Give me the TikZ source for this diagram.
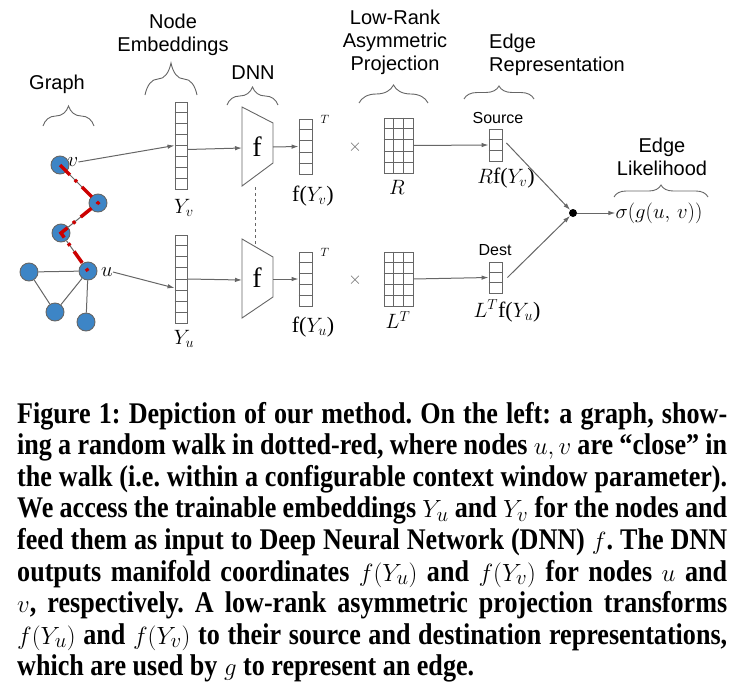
\documentclass[tikz,border=0pt]{standalone}
\usepackage{fontspec}
\setmainfont{Liberation Serif}
\setsansfont{Liberation Sans}
\newfontfamily\capfont[FakeStretch=0.87]{Liberation Serif}
\usetikzlibrary{arrows.meta,decorations.pathreplacing,calc}
\definecolor{gblue}{HTML}{3D85C6}
\definecolor{gline}{HTML}{666666}
\definecolor{wred}{HTML}{CC0000}
\frenchspacing
\begin{document}
\begin{tikzpicture}[x=1pt,y=-1pt,
  gnode/.style={circle, fill=gblue, draw=gline, line width=0.9pt, minimum size=18pt, inner sep=0pt},
  gedge/.style={draw=gline, line width=1pt},
  arr/.style={draw=gline, line width=1pt, -{Latex[length=7pt,width=4.5pt]}},
  vec/.style={draw=gline, line width=0.9pt, inner sep=0pt},
  cellline/.style={draw=gline, line width=0.9pt},
  brc/.style={draw=gline, line width=0.9pt, decorate, decoration={brace, amplitude=#1}},
  lbl/.style={font=\sffamily\fontsize{20}{23}\selectfont, align=center, inner sep=0pt},
  small/.style={font=\sffamily\fontsize{16}{18}\selectfont, inner sep=0pt},
  mth/.style={font=\fontsize{22}{24}\selectfont, inner sep=0pt},
  sup/.style={font=\fontsize{13}{14}\selectfont, inner sep=0pt},
  capline/.style={font=\capfont\bfseries\fontsize{30}{31.6}\selectfont}]
\useasboundingbox (0,0) rectangle (744,699);

\node[gnode] (gv) at (60,165){};
\node[gnode] (g2) at (98,203){};
\node[gnode] (g3) at (61,233){};
\node[gnode] (gu) at (88,271){};
\node[gnode] (gl) at (29,272){};
\node[gnode] (gb) at (55,312){};
\node[gnode] (gr) at (86,322){};
\draw[gedge] (gv) -- (g2);
\draw[gedge] (g2) -- (g3);
\draw[gedge] (g3) -- (gu);
\draw[gedge] (gl) -- (gu);
\draw[gedge] (gl) -- (gb);
\draw[gedge] (gb) -- (gu);
\draw[gedge] (gu) -- (gr);
\draw[wred, line width=3.5pt, line join=miter, dash pattern=on 14pt off 7pt on 3pt off 7pt]
  (gv.center) -- (g2.center) -- (g3.center) -- (gu.center);
\node[mth] (vl) at (73,162){$v$};
\node[mth] (ul) at (107,272){$u$};

\node[vec, minimum width=12pt, minimum height=87pt] (yv) at (181,145.5){};
\node[vec, minimum width=12pt, minimum height=88pt] (yu) at (181,279){};
\node[vec, minimum width=13pt, minimum height=55pt] (fyv) at (305.5,146.5){};
\node[vec, minimum width=13pt, minimum height=54pt] (fyu) at (305.5,279){};
\node[vec, minimum width=29pt, minimum height=55pt] (matR) at (398.5,145.5){};
\node[vec, minimum width=29pt, minimum height=54pt] (matL) at (398.5,279){};
\node[vec, minimum width=13pt, minimum height=32pt] (src) at (495.5,145){};
\node[vec, minimum width=13pt, minimum height=31pt] (dst) at (495.5,277.5){};
\foreach \n/\m/\k in {yv/8/7, yu/8/7, fyv/5/4, fyu/5/4, matR/5/4, matL/5/4, src/3/2, dst/3/2}
  \foreach \i in {1,...,\k}
    \draw[cellline] ($(\n.north west)!\i/\m!(\n.south west)$) -- ($(\n.north east)!\i/\m!(\n.south east)$);
\foreach \n in {matR, matL}
  \foreach \i in {1,2}
    \draw[cellline] ($(\n.north west)!\i/3!(\n.north east)$) -- ($(\n.south west)!\i/3!(\n.south east)$);

\draw[gline, line width=0.9pt] (242,107) -- (273,123) -- (273,163) -- (242,186) -- cycle;
\draw[gline, line width=0.9pt] (242,239) -- (273,257) -- (273,297) -- (242,318) -- cycle;
\node[font=\fontsize{28}{30}\selectfont] (fv) at (257,147){f};
\node[font=\fontsize{28}{30}\selectfont] (fu) at (257,278){f};
\coordinate (dnnvin) at (242,148);
\coordinate (dnnvout) at (273,147);
\coordinate (dnnuin) at (242,280);
\coordinate (dnnuout) at (273,279);
\coordinate (dnnvb) at (255,187);
\coordinate (dnnut) at (255,246);
\draw[gline, line width=0.9pt, dashed] (dnnvb) -- (dnnut);

\node[mth] (yvl) at (184,208){$Y_{v}$};
\node[mth] (yul) at (184,339){$Y_{u}$};
\node[mth] (fyvl) at (313,196){f($Y_{v}$)};
\node[mth] (fyul) at (313,327){f($Y_{u}$)};
\node[sup] (tv) at (325,119){$T$};
\node[sup] (tu) at (325,252){$T$};
\node[font=\fontsize{18}{18}\selectfont, text=gline] (xv) at (355,147){$\times$};
\node[font=\fontsize{18}{18}\selectfont, text=gline] (xu) at (355,280){$\times$};
\node[mth] (rl) at (397,187){$R$};
\node[mth] (ll) at (398,320){$L^{T}$};
\node[small] (srcl) at (498,118){Source};
\node[small] (dstl) at (495,250){Dest};
\node[mth] (rfl) at (506,178){$R$f($Y_{v}$)};
\node[mth] (lfl) at (507,311){$L^{T}$f($Y_{u}$)};
\node[circle, fill, inner sep=0pt, minimum size=8pt] (dot) at (573,213){};
\node[mth, font=\fontsize{21}{24}\selectfont] (sig) at (659,213){$\sigma(g(u,\,v))$};

\draw[arr] (vl.east) -- (yv.west);
\draw[arr] (ul.east) -- ([yshift=-9pt]yu.west);
\draw[arr] ([yshift=-4pt]yv.east) -- (dnnvin);
\draw[arr] (yu.east) -- (dnnuin);
\draw[arr] (dnnvout) -- (fyv.west);
\draw[arr] (dnnuout) -- (fyu.west);
\draw[arr] (matR.east) -- (src.west);
\draw[arr] (matL.east) -- (dst.west);
\draw[arr] ([xshift=4pt,yshift=2pt]src.east) -- (dot);
\draw[arr] ([xshift=5pt]dst.east) -- (dot);
\draw[arr] (dot) -- (sig.west);

\node[lbl] (tgraph) at (57,84){Graph};
\node[lbl] (temb) at (173,35){Node\\Embeddings};
\node[lbl] (tdnn) at (253,73){DNN};
\node[lbl] (tproj) at (395,42){Low-Rank\\Asymmetric\\Projection};
\node[lbl, align=left, anchor=west] (trep) at (489,55){Edge\\Representation};
\node[lbl] (tlik) at (662,157){Edge\\Likelihood};
\draw[brc=20pt] (43,126) -- (94,126);
\draw[brc=32pt] (145,95) -- (197,95);
\draw[brc=18pt] (227,105) -- (278,105);
\draw[brc=18pt] (359,103) -- (428,103);
\draw[brc=13pt] (464,99) -- (534,99);
\draw[brc=12pt] (614,197) -- (708,197);

\node[capline, anchor=base west, inner sep=0pt] (cap1) at (17,423){\makebox[710pt][s]{Figure 1: Depiction of our method. On the left: a graph, show-}};
\node[capline, anchor=base west, inner sep=0pt] (cap2) at (17,454.6){\makebox[710pt][s]{ing a random walk in dotted-red, where nodes $u,v$ are “close” in}};
\node[capline, anchor=base west, inner sep=0pt] (cap3) at (17,486.2){\makebox[710pt][s]{the walk (i.e. within a configurable context window parameter).}};
\node[capline, anchor=base west, inner sep=0pt] (cap4) at (17,517.8){\makebox[710pt][s]{We access the trainable embeddings $Y_u$ and $Y_v$ for the nodes and}};
\node[capline, anchor=base west, inner sep=0pt] (cap5) at (17,549.4){\makebox[710pt][s]{feed them as input to Deep Neural Network (DNN) $f$. The DNN}};
\node[capline, anchor=base west, inner sep=0pt] (cap6) at (17,581){\makebox[710pt][s]{outputs manifold coordinates $f(Y_u)$ and $f(Y_v)$ for nodes $u$ and}};
\node[capline, anchor=base west, inner sep=0pt] (cap7) at (17,612.6){\makebox[710pt][s]{$v$, respectively. A low-rank asymmetric projection transforms}};
\node[capline, anchor=base west, inner sep=0pt] (cap8) at (17,644.2){\makebox[710pt][s]{$f(Y_u)$ and $f(Y_v)$ to their source and destination representations,}};
\node[capline, anchor=base west, inner sep=0pt] (cap9) at (17,675.8){which are used by $g$ to represent an edge.};
\end{tikzpicture}
\end{document}
